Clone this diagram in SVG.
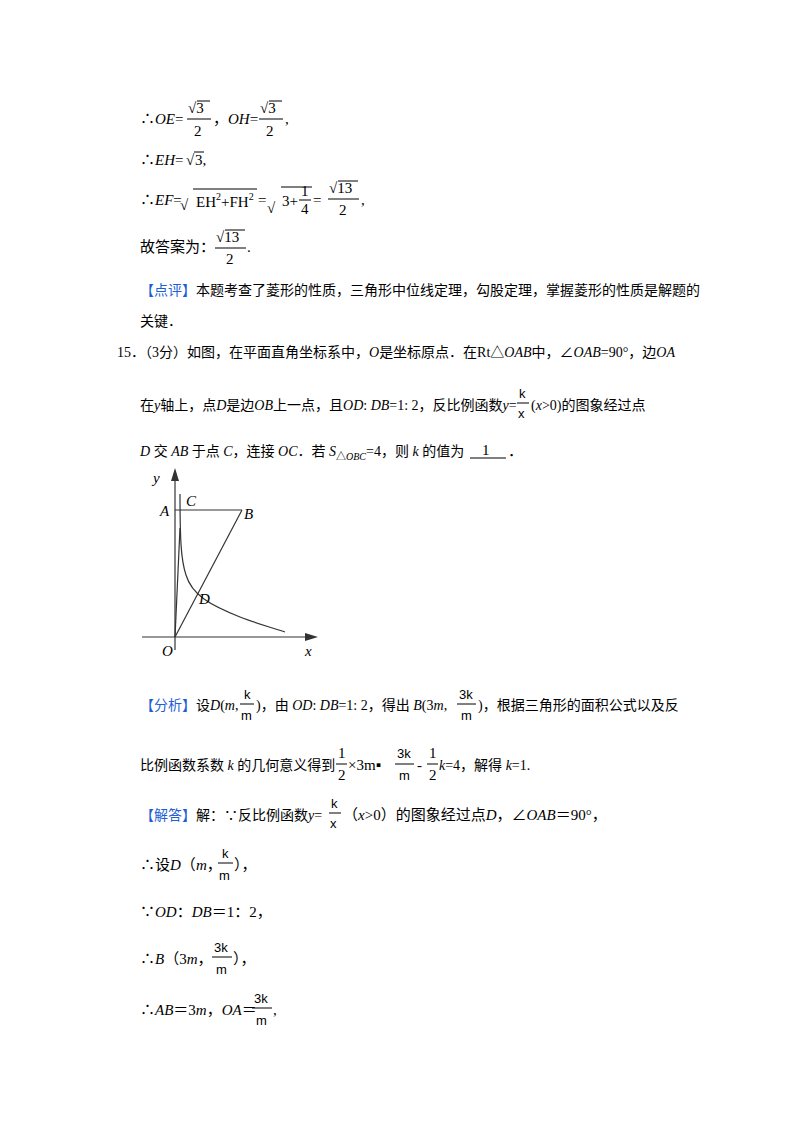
<svg xmlns="http://www.w3.org/2000/svg" width="800" height="1132" viewBox="0 0 800 1132">
<style>
text{font-family:"Liberation Serif","Noto Sans CJK SC",serif;font-size:15px;fill:#000}
.i{font-style:italic}
.b{fill:#1f5fd6;font-family:"Noto Sans CJK SC",sans-serif}
.ln{stroke:#000;stroke-width:1;fill:none}
.f{stroke:#333;stroke-width:1.2;fill:none}
.sf{font-family:"Liberation Sans",sans-serif;font-size:13px}
.t{font-size:14px}
</style>
<rect width="800" height="1132" fill="#fff"/>
<!-- line 1 -->
<text x="140" y="124">∴<tspan class="i">OE</tspan>=</text>
<text x="188" y="113">√3</text><line class="ln" x1="197" y1="101" x2="210" y2="101"/><line class="ln" x1="187" y1="119" x2="211" y2="119"/><text x="194" y="136">2</text>
<text x="213" y="124">，<tspan class="i">OH</tspan>=</text>
<text x="260" y="113">√3</text><line class="ln" x1="269" y1="101" x2="282" y2="101"/><line class="ln" x1="259" y1="119" x2="283" y2="119"/><text x="266" y="136">2</text>
<text x="285" y="124">,</text>
<!-- line 2 -->
<text x="140" y="165">∴<tspan class="i">EH</tspan>=</text>
<text x="186" y="165">√</text><text x="195" y="165">3,</text><line class="ln" x1="194" y1="152" x2="204" y2="152"/>
<!-- line 3 -->
<text x="140" y="205">∴<tspan class="i">EF</tspan>=</text>
<text x="180" y="210" font-size="22">√</text><line class="ln" x1="193" y1="189" x2="257" y2="189"/>
<text x="196" y="207" font-family="Liberation Mono" font-size="13">EH<tspan dy="-7" font-size="10">2</tspan><tspan dy="7">+FH</tspan><tspan dy="-7" font-size="10">2</tspan></text>
<text x="258" y="205">=</text>
<text x="267" y="213" font-size="26">√</text><line class="ln" x1="281" y1="187" x2="312" y2="187"/>
<text x="282" y="206">3+</text><text x="301" y="196">1</text><line class="ln" x1="299" y1="200" x2="311" y2="200"/><text x="301" y="214">4</text>
<text x="313" y="205">=</text>
<text x="329" y="193">√13</text><line class="ln" x1="338" y1="181" x2="358" y2="181"/><line class="ln" x1="328" y1="199" x2="359" y2="199"/><text x="339" y="215">2</text>
<text x="361" y="205">,</text>
<!-- line 4 -->
<text x="140" y="252">故答案为：</text>
<text x="216" y="242">√13</text><line class="ln" x1="225" y1="230" x2="245" y2="230"/><line class="ln" x1="215" y1="248" x2="246" y2="248"/><text x="226" y="264">2</text>
<text x="247" y="252">.</text>
<!-- 点评 -->
<text x="140" y="295" class="t"><tspan class="b">【点评】</tspan>本题考查了菱形的性质，三角形中位线定理，勾股定理，掌握菱形的性质是解题的</text>
<text x="140" y="326" class="t">关键．</text>
<!-- 15 -->
<text x="117" y="357" class="t">15．（3分）如图，在平面直角坐标系中，<tspan class="i">O</tspan>是坐标原点．在Rt△<tspan class="i">OAB</tspan>中，∠<tspan class="i">OAB</tspan>=90°，边<tspan class="i">OA</tspan></text>
<text x="140" y="410" class="t">在<tspan class="i">y</tspan>轴上，点<tspan class="i">D</tspan>是边<tspan class="i">OB</tspan>上一点，且<tspan class="i">OD</tspan>: <tspan class="i">DB</tspan>=1: 2，反比例函数<tspan class="i">y</tspan>=</text>
<text x="519" y="398" class="sf">k</text><line class="ln" x1="517" y1="403" x2="529" y2="403"/><text x="518" y="418" class="sf">x</text>
<text x="531" y="410" class="t">(<tspan class="i">x</tspan>&gt;0)的图象经过点</text>
<text x="140" y="456" class="t"><tspan class="i">D</tspan> 交 <tspan class="i">AB</tspan> 于点 <tspan class="i">C</tspan>，连接 <tspan class="i">OC</tspan>．若 <tspan class="i">S</tspan><tspan font-size="10" dy="4">△<tspan class="i">OBC</tspan></tspan><tspan dy="-4">=4，则 </tspan><tspan class="i">k</tspan> 的值为</text>
<line class="ln" x1="470" y1="458" x2="506" y2="458"/><text x="482" y="455">1</text><text x="508" y="456">．</text>
<!-- figure -->
<g id="figure">
<line class="f" x1="175" y1="650" x2="175" y2="476"/>
<polygon points="175,468 171,481 179,481" fill="#333"/>
<line class="f" x1="142" y1="637" x2="310" y2="637"/>
<polygon points="318,637 305,633 305,641" fill="#333"/>
<line class="f" x1="175" y1="510" x2="242" y2="510"/>
<line class="f" x1="175" y1="637" x2="242" y2="510"/>
<line class="f" x1="175" y1="637" x2="180" y2="528"/>
<path class="f" d="M180,494 C180,540 181,560 186,575 C192,595 210,605 240,617 C255,623 270,627 285,632"/>
<text x="153" y="483" class="i">y</text>
<text x="186" y="506" class="i">C</text>
<text x="160" y="516" class="i">A</text>
<text x="244" y="519" class="i">B</text>
<text x="199" y="604" class="i">D</text>
<text x="162" y="656" class="i">O</text>
<text x="305" y="656" class="i">x</text>
</g>
<!-- 分析 -->
<text x="140" y="710" class="t"><tspan class="b">【分析】</tspan>设<tspan class="i">D</tspan>(<tspan class="i">m</tspan>,</text>
<text x="244" y="699" class="sf">k</text><line class="ln" x1="240" y1="704" x2="254" y2="704"/><text x="241" y="720" class="sf" font-size="12">m</text>
<text x="256" y="710" class="t">)，由 <tspan class="i">OD</tspan>: <tspan class="i">DB</tspan>=1: 2，得出 <tspan class="i">B</tspan>(3<tspan class="i">m</tspan>,</text>
<text x="459" y="699" class="sf">3k</text><line class="ln" x1="457" y1="704" x2="476" y2="704"/><text x="461" y="720" class="sf" font-size="12">m</text>
<text x="478" y="710" class="t">)，根据三角形的面积公式以及反</text>
<text x="140" y="770" class="t">比例函数系数 <tspan class="i">k</tspan> 的几何意义得到</text>
<text x="338" y="758">1</text><line class="ln" x1="336" y1="764" x2="347" y2="764"/><text x="338" y="780">2</text>
<text x="348" y="770">×3m▪</text>
<text x="397" y="758" class="sf">3k</text><line class="ln" x1="395" y1="764" x2="414" y2="764"/><text x="399" y="780" class="sf" font-size="12">m</text>
<text x="417" y="770">-</text><text x="429" y="758">1</text><line class="ln" x1="427" y1="764" x2="438" y2="764"/><text x="429" y="780">2</text>
<text x="439" y="770" class="t"><tspan class="i">k</tspan>=4，解得 <tspan class="i">k</tspan>=1.</text>
<!-- 解答 -->
<text x="140" y="820" class="t"><tspan class="b">【解答】</tspan>解：∵反比例函数<tspan class="i">y</tspan>=</text>
<text x="331" y="808" class="sf">k</text><line class="ln" x1="329" y1="813" x2="341" y2="813"/><text x="330" y="828" class="sf">x</text>
<text x="343" y="820">（<tspan class="i">x</tspan>&gt;0）的图象经过点<tspan class="i">D</tspan>，∠<tspan class="i">OAB</tspan>＝90°，</text>
<text x="140" y="870">∴设<tspan class="i">D</tspan>（<tspan class="i">m</tspan>，</text>
<text x="222" y="858" class="sf">k</text><line class="ln" x1="218" y1="863" x2="233" y2="863"/><text x="219" y="880" class="sf" font-size="12">m</text>
<text x="234" y="870">），</text>
<text x="140" y="917">∵<tspan class="i">OD</tspan>：<tspan class="i">DB</tspan>＝1：2，</text>
<text x="140" y="964">∴<tspan class="i">B</tspan>（3<tspan class="i">m</tspan>，</text>
<text x="214" y="952" class="sf">3k</text><line class="ln" x1="212" y1="957" x2="232" y2="957"/><text x="216" y="974" class="sf" font-size="12">m</text>
<text x="233" y="964">），</text>
<text x="140" y="1015">∴<tspan class="i">AB</tspan>＝3<tspan class="i">m</tspan>，<tspan class="i">OA</tspan>＝</text>
<text x="254" y="1003" class="sf">3k</text><line class="ln" x1="252" y1="1008" x2="272" y2="1008"/><text x="256" y="1025" class="sf" font-size="12">m</text>
<text x="273" y="1015">,</text>
</svg>
